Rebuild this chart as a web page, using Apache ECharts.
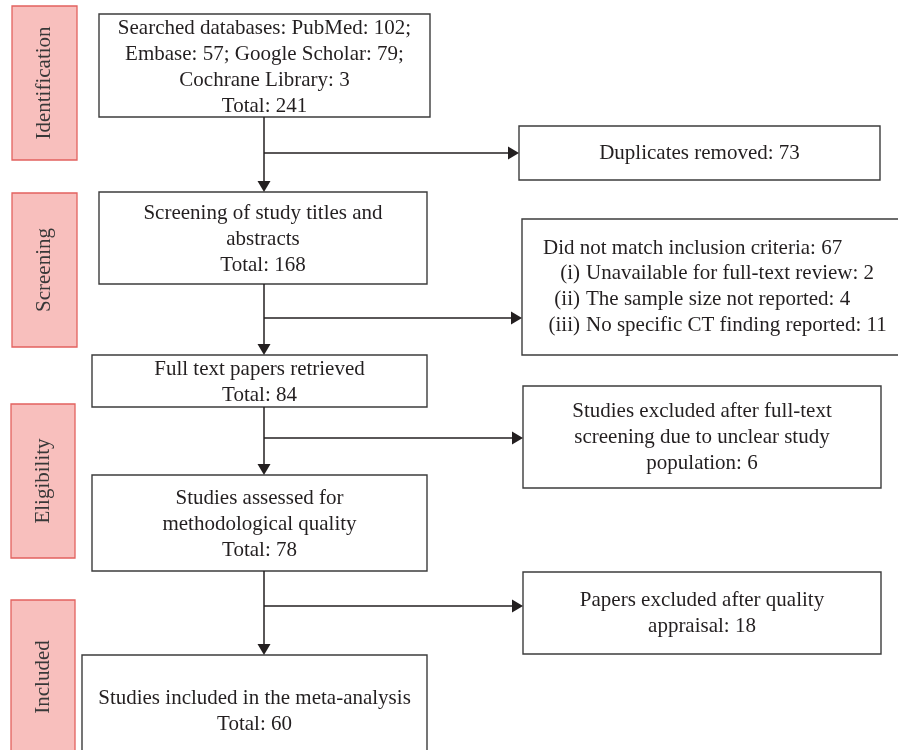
<!DOCTYPE html>
<html>
<head>
<meta charset="utf-8">
<script src="https://cdn.jsdelivr.net/npm/echarts@6/dist/echarts.min.js"></script>
<style>
html,body{margin:0;padding:0;background:#fff;}
#chart{width:898px;height:750px;}
</style>
</head>
<body>
<div id="chart"></div>
<script>
// ---- data ----
const stages = ['Identification', 'Screening', 'Eligibility', 'Included'];
const mainSteps = [
  'Searched databases: PubMed: 102;\nEmbase: 57; Google Scholar: 79;\nCochrane Library: 3',
  'Screening of study titles and\nabstracts',
  'Full text papers retrieved',
  'Studies assessed for\nmethodological quality',
  'Studies included in the meta-analysis'
];
const mainTotals = [241, 168, 84, 78, 60];
const exclusionLabels = [
  'Duplicates removed',
  'Did not match inclusion criteria',
  'Studies excluded after full-text\nscreening due to unclear study\npopulation',
  'Papers excluded after quality\nappraisal'
];
const exclusionCounts = [73, 67, 6, 18];
const criteriaNumerals = ['(i)', '(ii)', '(iii)'];
const criteriaLabels = ['Unavailable for full-text review', 'The sample size not reported', 'No specific CT finding reported'];
const criteriaCounts = [2, 4, 11];

// ---- layout (chart-space units) ----
const layout = {
  stageBoxes: [[12, 6, 77, 160], [12, 193, 77, 347], [11, 404, 75, 558], [11, 600, 75, 754]],
  mainBoxes: [[99, 14, 430, 117], [99, 192, 427, 284], [92, 355, 427, 407], [92, 475, 427, 571], [82, 655, 427, 765]],
  exclBoxes: [[519, 126, 880, 180], [522, 219, 910, 355], [523, 386, 881, 488], [523, 572, 881, 654]],
  trunkX: 264,
  branchY: [153, 318, 438, 606],
  lineH: 26,
  criteria: { headerX: 543, numRightX: 580, textX: 586, firstY: 248, step: 25.7 }
};
const FONT = '21px "Liberation Serif", "DejaVu Serif", serif';
const TEXT = '#231f20';
const BOX_STROKE = '#3c3c3c';

function rectOf(b, api) {
  const p1 = api.coord([b[0], b[1]]);
  const p2 = api.coord([b[2], b[3]]);
  return {
    x: Math.min(p1[0], p2[0]), y: Math.min(p1[1], p2[1]),
    width: Math.abs(p2[0] - p1[0]), height: Math.abs(p2[1] - p1[1])
  };
}
function txt(text, x, y, align, extra) {
  return Object.assign({
    type: 'text',
    style: {
      text: text, x: x, y: y, align: align || 'center', verticalAlign: 'middle',
      textAlign: align || 'center', textVerticalAlign: 'middle',
      font: FONT, fill: TEXT, lineHeight: layout.lineH
    }
  }, extra || {});
}

const chart = echarts.init(document.getElementById('chart'), null, { renderer: 'canvas' });

const option = {
  animation: false,
  backgroundColor: '#ffffff',
  grid: { left: 0, right: 0, top: 0, bottom: 0 },
  xAxis: { type: 'value', min: 0, max: 898, show: false },
  yAxis: { type: 'value', min: 0, max: 750, inverse: true, show: false },
  series: [
    {
      // stage labels
      type: 'custom', silent: true, clip: false,
      data: stages.map((s, i) => [i]),
      renderItem: function (params, api) {
        const i = api.value(0);
        const r = rectOf(layout.stageBoxes[i], api);
        return {
          type: 'group',
          children: [
            { type: 'rect', shape: r, style: { fill: '#f8bfbd', stroke: '#e2625f', lineWidth: 1.3 } },
            {
              type: 'text', x: r.x + r.width / 2, y: r.y + r.height / 2, rotation: Math.PI / 2,
              style: { text: stages[i], x: 0, y: 0, align: 'center', verticalAlign: 'middle',
                textAlign: 'center', textVerticalAlign: 'middle', font: FONT, fill: '#383838' }
            }
          ]
        };
      }
    },
    {
      // main flow boxes
      type: 'custom', silent: true, clip: false,
      data: mainSteps.map((s, i) => [i]),
      renderItem: function (params, api) {
        const i = api.value(0);
        const r = rectOf(layout.mainBoxes[i], api);
        let cy = r.y + r.height / 2 + 1.5;
        return {
          type: 'group',
          children: [
            { type: 'rect', shape: r, style: { fill: '#ffffff', stroke: BOX_STROKE, lineWidth: 1.4 } },
            txt(mainSteps[i] + '\nTotal: ' + mainTotals[i], r.x + r.width / 2, cy, 'center')
          ]
        };
      }
    },
    {
      // exclusion boxes
      type: 'custom', silent: true, clip: false,
      data: exclusionLabels.map((s, i) => [i]),
      renderItem: function (params, api) {
        const i = api.value(0);
        const r = rectOf(layout.exclBoxes[i], api);
        const children = [
          { type: 'rect', shape: r, style: { fill: '#ffffff', stroke: BOX_STROKE, lineWidth: 1.4 } }
        ];
        if (i === 1) {
          const c = layout.criteria;
          const h = api.coord([c.headerX, c.firstY]);
          children.push(txt(exclusionLabels[i] + ': ' + exclusionCounts[i], h[0], h[1], 'left'));
          criteriaLabels.forEach((lab, k) => {
            const yv = c.firstY + c.step * (k + 1);
            const pn = api.coord([c.numRightX, yv]);
            const pt = api.coord([c.textX, yv]);
            children.push(txt(criteriaNumerals[k], pn[0], pn[1], 'right'));
            children.push(txt(lab + ': ' + criteriaCounts[k], pt[0], pt[1], 'left'));
          });
        } else {
          children.push(txt(exclusionLabels[i] + ': ' + exclusionCounts[i], r.x + r.width / 2, r.y + r.height / 2, 'center'));
        }
        return { type: 'group', children: children };
      }
    },
    {
      // connectors with arrowheads
      type: 'custom', silent: true, clip: false,
      data: exclusionLabels.map((s, i) => [i]),
      renderItem: function (params, api) {
        const i = api.value(0);
        const top = api.coord([layout.trunkX, layout.mainBoxes[i][3]]);
        const bot = api.coord([layout.trunkX, layout.mainBoxes[i + 1][1]]);
        const bStart = api.coord([layout.trunkX, layout.branchY[i]]);
        const bEnd = api.coord([layout.exclBoxes[i][0], layout.branchY[i]]);
        const ls = { stroke: '#231f20', lineWidth: 1.5, fill: null };
        const ah = 11, aw = 6.5;
        return {
          type: 'group',
          children: [
            { type: 'line', shape: { x1: top[0], y1: top[1], x2: bot[0], y2: bot[1] - ah + 1 }, style: ls },
            { type: 'line', shape: { x1: bStart[0], y1: bStart[1], x2: bEnd[0] - ah + 1, y2: bEnd[1] }, style: ls },
            { type: 'polygon', shape: { points: [[bot[0] - aw, bot[1] - ah], [bot[0] + aw, bot[1] - ah], [bot[0], bot[1]]] },
              style: { fill: '#231f20' } },
            { type: 'polygon', shape: { points: [[bEnd[0] - ah, bEnd[1] - aw], [bEnd[0] - ah, bEnd[1] + aw], [bEnd[0], bEnd[1]]] },
              style: { fill: '#231f20' } }
          ]
        };
      }
    }
  ]
};
chart.setOption(option);
</script>
</body>
</html>
